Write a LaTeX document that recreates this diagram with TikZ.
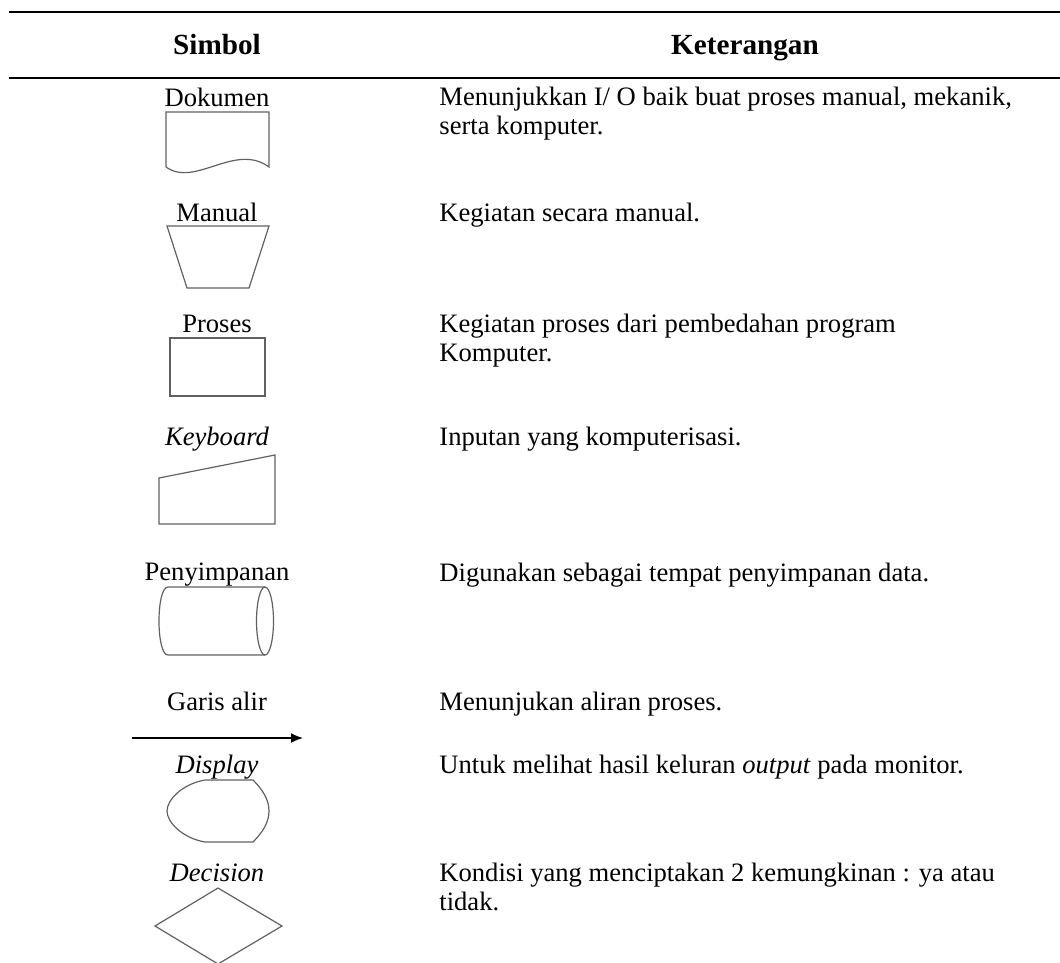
\documentclass[tikz,border=0pt]{standalone}
\usepackage{fontspec}
\setmainfont{Liberation Serif}
\usetikzlibrary{arrows.meta}
\begin{document}
\begin{tikzpicture}[x=0.5pt,y=-0.5pt,
  rulestyle/.style={line width=1.3pt,black},
  headtext/.style={font=\fontsize{14.6}{17}\selectfont\bfseries,anchor=base},
  symlabel/.style={font=\fontsize{13.3}{15}\selectfont,anchor=base,inner sep=0pt},
  desctext/.style={font=\fontsize{13.3}{14.5}\selectfont,anchor=base west,align=left,inner sep=0pt},
  symshape/.style={draw=black!62,line width=0.6pt},
  flowarrow/.style={line width=0.8pt,-{Latex[length=6pt,width=5pt]}}]
\useasboundingbox (0,0) rectangle (1060,963);
% rules
\coordinate (r1a) at (9,12); \coordinate (r1b) at (1060,12);
\coordinate (r2a) at (9,78); \coordinate (r2b) at (1060,78);
\draw[rulestyle] (r1a) -- (r1b);
\draw[rulestyle] (r2a) -- (r2b);
% header
\node[headtext] (hsim) at (217,55) {Simbol};
\node[headtext] (hket) at (745,55) {Keterangan};
% labels
\node[symlabel] (l1) at (217,106) {Dokumen};
\node[symlabel] (l2) at (217,221) {Manual};
\node[symlabel] (l3) at (217,332) {Proses};
\node[symlabel] (l4) at (217,445) {\itshape Keyboard};
\node[symlabel] (l5) at (217,580) {Penyimpanan};
\node[symlabel] (l6) at (217,710) {Garis alir};
\node[symlabel] (l7) at (217,773) {\itshape Display};
\node[symlabel] (l8) at (217,881) {\itshape Decision};
% descriptions (base anchor of a two-line node = last line's baseline)
\node[desctext] (d1) at (439,134) {Menunjukkan I/ O baik buat proses manual, mekanik,\\serta komputer.};
\node[desctext] (d2) at (439,221) {Kegiatan secara manual.};
\node[desctext] (d3) at (439,361) {Kegiatan proses dari pembedahan program\\Komputer.};
\node[desctext] (d4) at (439,445) {Inputan yang komputerisasi.};
\node[desctext] (d5) at (439,581) {Digunakan sebagai tempat penyimpanan data.};
\node[desctext] (d6) at (439,710) {Menunjukan aliran proses.};
\node[desctext] (d7) at (439,773) {Untuk melihat hasil keluran \textit{output} pada monitor.};
\node[desctext] (d8) at (439,910) {Kondisi yang menciptakan 2 kemungkinan : ya atau\\tidak.};
% Dokumen
\draw[symshape] (166,167) -- (166,112) -- (269,112) -- (269,167)
  .. controls (235,142) and (195,188) .. (166,167);
% Manual
\draw[symshape] (167,226) -- (269,226) -- (249,288) -- (187,288) -- cycle;
% Proses
\draw[symshape] (170,338) rectangle (265,396);
% Keyboard
\draw[symshape] (159,478) -- (275,455) -- (275,524) -- (159,524) -- cycle;
% Penyimpanan
\draw[symshape] (265,587) -- (168,587) .. controls (156,587) and (156,655) .. (168,655) -- (265,655);
\draw[symshape] (265,621) ellipse [x radius=4.25pt, y radius=17pt];
% Garis alir
\coordinate (a1) at (132,738); \coordinate (a2) at (303,738);
\draw[flowarrow] (a1) -- (a2);
% Display
\draw[symshape] (205,780) -- (253,780)
  .. controls (263,790) and (269,800) .. (269,811)
  .. controls (269,822) and (263,832) .. (253,842)
  -- (205,842)
  .. controls (182,838) and (167,822) .. (167,811)
  .. controls (167,800) and (182,784) .. (205,780) -- cycle;
% Decision
\draw[symshape] (218,888) -- (282,926) -- (218,964) -- (155,926) -- cycle;
\end{tikzpicture}
\end{document}
